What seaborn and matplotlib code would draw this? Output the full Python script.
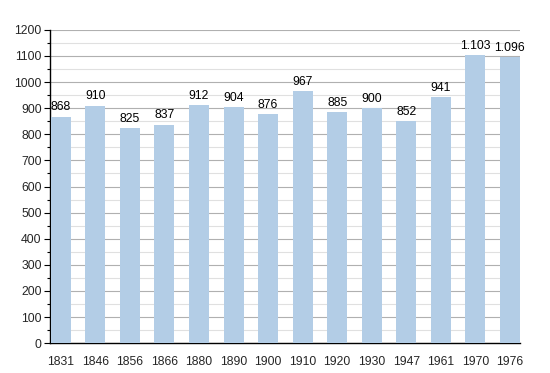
import matplotlib
matplotlib.use("Agg")
import matplotlib.pyplot as plt
import seaborn as sns
import pandas as pd
from matplotlib.ticker import MultipleLocator

years = ["1831", "1846", "1856", "1866", "1880", "1890", "1900", "1910",
         "1920", "1930", "1947", "1961", "1970", "1976"]
population = [868, 910, 825, 837, 912, 904, 876, 967, 885, 900, 852, 941, 1103, 1096]
labels = ["868", "910", "825", "837", "912", "904", "876", "967", "885", "900",
          "852", "941", "1.103", "1.096"]

sns.set_theme(style="white")
plt.rcParams['font.family'] = ['Liberation Sans', 'DejaVu Sans']

df = pd.DataFrame({"year": years, "pop": population})

fig = plt.figure(figsize=(5.5, 3.73), dpi=100)
ax = fig.add_axes([0.091, 0.080, 0.855, 0.840])

sns.barplot(data=df, x="year", y="pop", color="#b3cde6", saturation=1,
            width=0.58, ax=ax, zorder=3, linewidth=0, edgecolor="none")

ax.set_ylim(0, 1200)
ax.set_xlim(-0.31, 13.3)
ax.yaxis.set_major_locator(MultipleLocator(100))
ax.yaxis.set_minor_locator(MultipleLocator(50))
ax.grid(which="major", axis="y", color="#b0b0b0", linewidth=0.8, zorder=0)
ax.grid(which="minor", axis="y", color="#e0e0e0", linewidth=0.8, zorder=0)
ax.set_axisbelow(True)

for s in ["top", "right"]:
    ax.spines[s].set_visible(False)
for s in ["left", "bottom"]:
    ax.spines[s].set_color("black")
    ax.spines[s].set_linewidth(1.0)

ax.tick_params(axis="y", which="major", left=True, length=4, width=0.8,
               color="black", labelsize=8.8, pad=2)
ax.tick_params(axis="y", which="minor", left=True, length=2, width=0.8, color="black")
ax.tick_params(axis="x", bottom=False, labelsize=8.8, pad=3)
ax.set_xlabel("")
ax.set_ylabel("")

for i, (v, t) in enumerate(zip(population, labels)):
    ax.text(i, v + 12, t, ha="center", va="bottom", fontsize=8.8, color="black", zorder=5)

fig.savefig("out.png", dpi=100)
